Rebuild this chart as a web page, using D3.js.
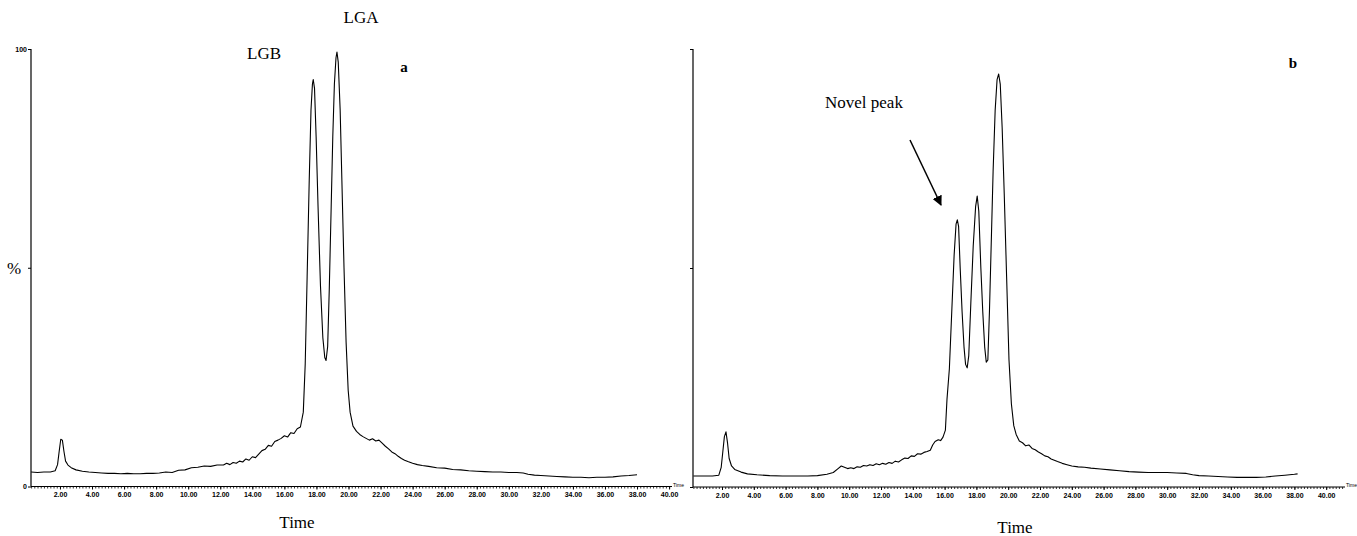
<!DOCTYPE html>
<html><head><meta charset="utf-8">
<script src="https://cdn.jsdelivr.net/npm/d3@7"></script>
<style>
html,body{margin:0;padding:0;background:#fff;}
svg{display:block;}
.tl{font-family:"Liberation Sans",Arial,sans-serif;font-size:7px;font-weight:bold;fill:#000;}
.serif{font-family:"Liberation Serif","Times New Roman",serif;fill:#000;}
</style>
</head><body>
<svg id="chart" width="1357" height="536"></svg>
<script>
// ---- Data: [retention time (min), relative intensity (%)] ----
const traceA = [[0.2,3.3],[0.6,3.2],[1.0,3.3],[1.4,3.3],[1.7,3.6],[1.85,5.0],[1.95,8.0],[2.05,10.8],[2.15,10.6],[2.25,8.0],[2.35,5.8],[2.5,4.9],[2.7,4.3],[3.0,3.8],[3.4,3.5],[3.8,3.3],[4.2,3.2],[4.6,3.1],[5.0,3.0],[5.4,3.0],[5.8,2.9],[6.2,3.0],[6.6,2.9],[7.0,2.9],[7.4,3.0],[7.8,3.0],[8.2,3.1],[8.6,3.3],[9.0,3.2],[9.4,3.7],[9.8,3.8],[10.2,4.3],[10.6,4.4],[11.0,4.7],[11.4,4.6],[11.8,4.9],[12.2,4.9],[12.4,5.3],[12.6,5.0],[12.8,5.5],[13.0,5.3],[13.2,5.8],[13.4,5.6],[13.6,6.3],[13.8,6.0],[14.0,6.8],[14.2,6.6],[14.4,7.4],[14.6,8.2],[14.8,8.5],[15.0,9.4],[15.2,9.2],[15.4,10.3],[15.6,10.6],[15.8,11.0],[16.0,11.6],[16.2,11.3],[16.4,12.3],[16.6,12.1],[16.8,13.2],[17.0,13.6],[17.18,17],[17.3,28],[17.42,48],[17.55,70],[17.66,86],[17.75,92],[17.8,93],[17.88,91],[17.98,80],[18.1,64],[18.25,46],[18.4,34],[18.52,29.5],[18.6,28.8],[18.7,32],[18.8,45],[18.92,64],[19.02,80],[19.12,92],[19.22,98],[19.28,99.3],[19.36,97],[19.48,86],[19.6,68],[19.72,50],[19.85,33],[19.98,22],[20.1,17],[20.28,13.8],[20.5,12.6],[20.7,11.9],[20.9,11.4],[21.1,11.0],[21.3,10.6],[21.5,10.9],[21.7,10.4],[21.9,10.6],[22.1,9.9],[22.3,9.2],[22.5,8.6],[22.7,7.9],[22.9,7.5],[23.1,6.9],[23.3,6.4],[23.5,6.0],[23.7,5.7],[24.0,5.3],[24.3,5.0],[24.6,4.8],[25.0,4.6],[25.5,4.3],[26.0,4.2],[26.5,3.9],[27.0,3.8],[27.5,3.6],[28.0,3.5],[28.5,3.4],[29.0,3.3],[29.5,3.3],[30.0,3.2],[30.5,3.2],[30.9,3.1],[31.2,2.8],[31.6,2.6],[32.0,2.5],[32.5,2.4],[33.0,2.3],[33.5,2.2],[34.0,2.1],[34.5,2.1],[35.0,2.0],[35.5,2.1],[36.0,2.1],[36.5,2.2],[37.0,2.4],[37.5,2.5],[38.0,2.7]];

const traceB = [[0.2,2.5],[0.8,2.5],[1.4,2.5],[1.8,2.7],[1.95,4.5],[2.05,8],[2.15,11.5],[2.25,12.6],[2.35,10],[2.45,6.5],[2.6,4.8],[2.8,4.0],[3.2,3.4],[3.6,3.0],[4.2,2.8],[5.0,2.6],[5.8,2.5],[6.6,2.5],[7.4,2.5],[8.0,2.6],[8.6,2.9],[9.0,3.3],[9.3,4.2],[9.5,4.8],[9.7,4.5],[9.9,4.2],[10.1,4.4],[10.3,4.2],[10.5,4.6],[10.7,4.5],[10.9,4.9],[11.1,4.8],[11.3,5.1],[11.5,4.9],[11.7,5.3],[11.9,5.1],[12.1,5.4],[12.3,5.2],[12.5,5.6],[12.7,5.4],[12.9,5.9],[13.1,5.7],[13.3,6.2],[13.5,6.6],[13.7,6.5],[13.9,7.1],[14.1,7.0],[14.3,7.6],[14.5,7.5],[14.7,7.9],[14.9,8.1],[15.1,8.4],[15.25,9.6],[15.4,10.4],[15.6,10.8],[15.75,10.6],[15.9,11.4],[16.05,13],[16.15,20],[16.3,27],[16.45,40],[16.6,53],[16.72,60],[16.8,61],[16.88,59.5],[16.98,50],[17.1,40],[17.22,32],[17.32,28],[17.42,27.2],[17.52,30],[17.65,42],[17.8,55],[17.95,64],[18.05,66.4],[18.15,63],[18.28,50],[18.4,40],[18.52,32],[18.62,28.5],[18.72,29],[18.82,40],[18.95,58],[19.05,72],[19.18,86],[19.3,93],[19.4,94.3],[19.5,92],[19.62,82],[19.75,67],[19.9,48],[20.05,29],[20.2,19],[20.35,14],[20.5,12],[20.7,10.5],[20.9,10.1],[21.1,9.4],[21.3,9.6],[21.5,8.8],[21.7,8.5],[21.9,8.0],[22.1,7.6],[22.3,7.1],[22.5,6.9],[22.7,6.4],[22.9,6.1],[23.1,5.8],[23.4,5.4],[23.7,5.1],[24.0,4.8],[24.4,4.6],[24.8,4.5],[25.2,4.3],[25.8,4.1],[26.4,3.9],[27.0,3.7],[27.6,3.5],[28.2,3.4],[28.8,3.3],[29.4,3.3],[30.0,3.3],[30.6,3.2],[31.2,3.1],[31.6,2.8],[32.0,2.6],[32.6,2.5],[33.2,2.4],[33.8,2.3],[34.4,2.2],[35.0,2.2],[35.6,2.2],[36.2,2.3],[36.8,2.5],[37.4,2.7],[38.0,2.9],[38.2,3.0]];

const majorTicks = [2,4,6,8,10,12,14,16,18,20,22,24,26,28,30,32,34,36,38,40];
const yTickLabels = ["0","100"];
const peakLabelsA = ["LGB","LGA"];
const panelLabels = ["a","b"];

// ---- Layout ----
const svg = d3.select("#chart");
const panels = [
  {data: traceA, x0: 27.9, pxPerMin: 16.03, axisX: 31, axisEnd: 672, yBottom: 486.5, yTop: 49, showY: true, label: panelLabels[0], labelX: 404, labelY: 72, timeX: 297, timeY: 528},
  {data: traceB, x0: 690.2, pxPerMin: 15.9, axisX: 693, axisEnd: 1345, yBottom: 487, yTop: 49, showY: false, label: panelLabels[1], labelX: 1293, labelY: 68, timeX: 1015, timeY: 533}
];

panels.forEach((p) => {
  const x = d3.scaleLinear().domain([0, 40]).range([p.x0, p.x0 + 40 * p.pxPerMin]);
  const y = d3.scaleLinear().domain([0, 100]).range([p.yBottom, p.yTop]);
  const g = svg.append("g");

  g.append("line").attr("x1", p.axisX).attr("x2", p.axisEnd)
    .attr("y1", p.yBottom).attr("y2", p.yBottom).attr("stroke", "#000").attr("stroke-width", 1.2);
  const xmax = x.invert(p.axisEnd);
  const minor = d3.range(0, Math.floor(xmax * 5) + 1).map(k => k / 5).filter(v => x(v) >= p.axisX);
  g.append("g").attr("transform", `translate(0,${p.yBottom})`)
    .call(d3.axisBottom(x).tickValues(minor).tickSize(2).tickFormat(""))
    .call(s => s.select(".domain").remove())
    .call(s => s.selectAll("line").attr("stroke-width", 0.8));
  g.append("g").attr("transform", `translate(0,${p.yBottom})`)
    .call(d3.axisBottom(x).tickValues(majorTicks).tickSize(3).tickPadding(3).tickFormat(d => d.toFixed(2)))
    .call(s => s.select(".domain").remove())
    .call(s => s.selectAll("text").attr("class", "tl").attr("font-size", null).attr("font-family", null));
  g.append("text").attr("class", "tl").attr("x", p.axisEnd + 1).attr("y", p.yBottom)
    .style("font-size", "5px").style("font-weight", "normal").text("Time");

  g.append("line").attr("x1", p.axisX).attr("x2", p.axisX)
    .attr("y1", p.yTop).attr("y2", p.yBottom).attr("stroke", "#000").attr("stroke-width", 1.2);
  const yAxis = d3.axisLeft(y).tickValues([0, 50, 100]).tickSize(3).tickPadding(1)
    .tickFormat(d => p.showY ? (d === 0 ? yTickLabels[0] : d === 100 ? yTickLabels[1] : "") : "");
  g.append("g").attr("transform", `translate(${p.axisX},0)`).call(yAxis)
    .call(s => s.select(".domain").remove())
    .call(s => s.selectAll("text").attr("class", "tl").attr("font-size", null).attr("font-family", null));

  const line = d3.line().x(d => x(d[0])).y(d => y(d[1]));
  g.append("path").datum(p.data).attr("d", line).attr("fill", "none")
    .attr("stroke", "#000").attr("stroke-width", 1.1).attr("stroke-linejoin", "round");

  g.append("text").attr("class", "serif").attr("x", p.labelX).attr("y", p.labelY)
    .attr("text-anchor", "middle").style("font-size", "15px").style("font-weight", "bold").text(p.label);
  g.append("text").attr("class", "serif").attr("x", p.timeX).attr("y", p.timeY)
    .attr("text-anchor", "middle").style("font-size", "17px").text("Time");
});

svg.append("text").attr("class", "serif").attr("x", 7).attr("y", 274)
  .style("font-size", "17px").text("%");

svg.append("text").attr("class", "serif").attr("x", 264).attr("y", 59)
  .attr("text-anchor", "middle").style("font-size", "17px").text(peakLabelsA[0]);
svg.append("text").attr("class", "serif").attr("x", 361).attr("y", 23)
  .attr("text-anchor", "middle").style("font-size", "17px").text(peakLabelsA[1]);

svg.append("text").attr("class", "serif").attr("x", 825).attr("y", 108)
  .style("font-size", "17px").text("Novel peak");
svg.append("defs").append("marker").attr("id", "ah").attr("viewBox", "0 0 10 10")
  .attr("refX", 9).attr("refY", 5).attr("markerWidth", 10).attr("markerHeight", 10)
  .attr("markerUnits", "userSpaceOnUse").attr("orient", "auto")
  .append("path").attr("d", "M0,0 L10,5 L0,10 Z").attr("fill", "#000");
svg.append("line").attr("x1", 910).attr("y1", 140).attr("x2", 941).attr("y2", 205)
  .attr("stroke", "#000").attr("stroke-width", 1.5).attr("marker-end", "url(#ah)");
</script>
</body></html>
